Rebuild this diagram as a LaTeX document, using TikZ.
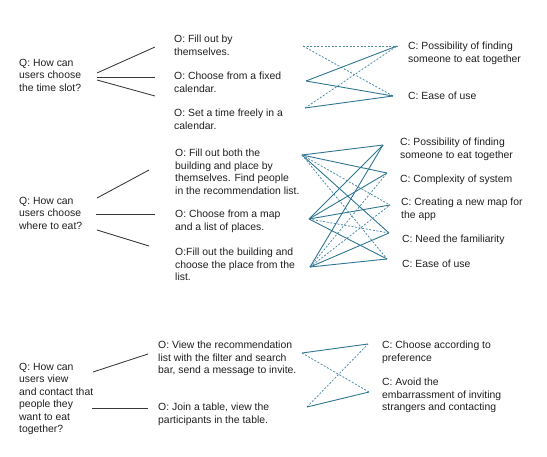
\documentclass[tikz,border=0pt]{standalone}
\usepackage{fontspec}
\setmainfont{Liberation Sans}
\definecolor{lnk}{RGB}{48,118,146}
\definecolor{lnkd}{RGB}{80,140,168}
\begin{document}
\begin{tikzpicture}[x=1pt,y=-1pt,
  txt/.style={anchor=north west,inner sep=0pt,align=left,text=black!88,font=\fontsize{10.4}{12.5}\selectfont},
  qline/.style={draw=black!78,line width=0.85pt},
  posline/.style={draw=lnk,line width=0.9pt},
  negline/.style={draw=lnkd,line width=0.8pt,dash pattern=on 2pt off 1.6pt}]
\useasboundingbox (0,0) rectangle (547,457);
% ---------- Section 1
\node[txt] (Q1) at (19,59) {Q: How can\\users choose\\the time slot?};
\node[txt] (O1a) at (174,35) {O: Fill out by\\themselves.};
\node[txt] (O1b) at (174,72) {O: Choose from a fixed\\calendar.};
\node[txt] (O1c) at (174,109) {O: Set a time freely in a\\calendar.};
\node[txt] (C1a) at (408,42) {C: Possibility of finding\\someone to eat together};
\node[txt] (C1b) at (408,92) {C: Ease of use};
\coordinate (q1a) at (97,73); \coordinate (q1b) at (97,77); \coordinate (q1c) at (97,80);
\coordinate (o1al) at (155,47); \coordinate (o1bl) at (155,77); \coordinate (o1cl) at (155,96);
\draw[qline] (q1a) -- (o1al);
\draw[qline] (q1b) -- (o1bl);
\draw[qline] (q1c) -- (o1cl);
\coordinate (o1ar) at (303,46); \coordinate (o1br) at (306,81); \coordinate (o1cr) at (305,108);
\coordinate (c1al) at (397,46); \coordinate (c1bl) at (393,96);
\draw[negline] (o1ar) -- (c1al);
\draw[negline] (o1ar) -- (c1bl);
\draw[posline] (o1br) -- (c1al);
\draw[posline] (o1br) -- (c1bl);
\draw[negline] (o1cr) -- (c1al);
\draw[posline] (o1cr) -- (c1bl);
% ---------- Section 2
\node[txt] (Q2) at (19,197) {Q: How can\\users choose\\where to eat?};
\node[txt] (O2a) at (175,149) {O: Fill out both the\\building and place by\\themselves. Find people\\in the recommendation list.};
\node[txt] (O2b) at (175,210) {O: Choose from a map\\and a list of places.};
\node[txt] (O2c) at (175,248) {O:Fill out the building and\\choose the place from the\\list.};
\node[txt] (C2a) at (400,138) {C: Possibility of finding\\someone to eat together};
\node[txt] (C2b) at (400,175) {C: Complexity of system};
\node[txt] (C2c) at (401,198) {C: Creating a new map for\\the app};
\node[txt] (C2d) at (402,235) {C: Need the familiarity};
\node[txt] (C2e) at (402,260) {C: Ease of use};
\coordinate (q2a) at (97,198); \coordinate (q2b) at (96,214); \coordinate (q2c) at (97,230);
\coordinate (o2al) at (149,170); \coordinate (o2bl) at (155,214); \coordinate (o2cl) at (149,246);
\draw[qline] (q2a) -- (o2al);
\draw[qline] (q2b) -- (o2bl);
\draw[qline] (q2c) -- (o2cl);
\coordinate (L1) at (302,155); \coordinate (L2) at (309,219); \coordinate (L3) at (310,267);
\coordinate (R1) at (383,145); \coordinate (R2) at (387,173); \coordinate (R3) at (390,205);
\coordinate (R4) at (389,233); \coordinate (R5) at (387,259);
\draw[posline] (L1) -- (R1); \draw[posline] (L1) -- (R2); \draw[negline] (L1) -- (R3);
\draw[posline] (L1) -- (R4); \draw[negline] (L1) -- (R5);
\draw[posline] (L2) -- (R1); \draw[posline] (L2) -- (R2); \draw[posline] (L2) -- (R3);
\draw[negline] (L2) -- (R4); \draw[posline] (L2) -- (R5);
\draw[posline] (L3) -- (R1); \draw[negline] (L3) -- (R2); \draw[negline] (L3) -- (R3);
\draw[posline] (L3) -- (R4); \draw[posline] (L3) -- (R5);
% ---------- Section 3
\node[txt] (Q3) at (19,363) {Q: How can\\users view\\and contact that\\people they\\want to eat\\together?};
\node[txt] (O3a) at (158,341) {O: View the recommendation\\list with the filter and search\\bar, send a message to invite.};
\node[txt] (O3b) at (158,403) {O: Join a table, view the\\participants in the table.};
\node[txt] (C3a) at (382,341) {C: Choose according to\\preference};
\node[txt] (C3b) at (382,378) {C: Avoid the\\embarrassment of inviting\\strangers and contacting};
\coordinate (q3a) at (93,372); \coordinate (q3b) at (92,408);
\coordinate (o3al) at (148,354); \coordinate (o3bl) at (148,408);
\draw[qline] (q3a) -- (o3al);
\draw[qline] (q3b) -- (o3bl);
\coordinate (o3ar) at (302,353); \coordinate (o3br) at (307,407);
\coordinate (c3al) at (368,344); \coordinate (c3bl) at (369,392);
\draw[posline] (o3ar) -- (c3al);
\draw[negline] (o3ar) -- (c3bl);
\draw[negline] (o3br) -- (c3al);
\draw[posline] (o3br) -- (c3bl);
\end{tikzpicture}
\end{document}
